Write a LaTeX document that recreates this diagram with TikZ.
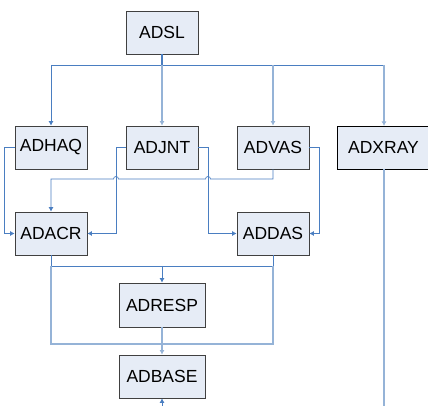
\documentclass[tikz,border=0pt]{standalone}
\usepackage{fontspec}
\setmainfont{Liberation Sans}
\usetikzlibrary{arrows.meta}
\definecolor{boxfill}{RGB}{230,236,246}
\definecolor{boxline}{RGB}{64,64,64}
\definecolor{linkdark}{RGB}{74,126,193}
\definecolor{linklight}{RGB}{149,179,215}
\tikzset{
  module/.style={draw=boxline, line width=0.8pt, fill=boxfill, minimum height=43pt,
    inner sep=0pt, font=\fontsize{17.5}{20}\selectfont},
  link/.style={draw=linkdark, line width=0.7pt},
  soft/.style={draw=linklight, line width=1.1pt},
  tip/.style={-{Latex[length=4.5pt,width=5pt]}},
}
\begin{document}
\begin{tikzpicture}[x=1pt,y=1pt]
\useasboundingbox (0,0) rectangle (428,406);
\clip (0,0) rectangle (428,406);

% modules
\node[module, minimum width=72pt] (adsl)   at (162,373.5) {ADSL};
\node[module, minimum width=72pt] (adhaq)  at (51,258.5)  {ADHAQ};
\node[module, minimum width=72pt] (adjnt)  at (162,258.5) {ADJNT};
\node[module, minimum width=72pt] (advas)  at (273,258.5) {ADVAS};
\node[module, draw=black, minimum width=93pt] (adxray) at (383.5,258.5) {ADXRAY};
\node[module, minimum width=72pt] (adacr)  at (51,172.5)  {ADACR};
\node[module, minimum width=72pt] (addas)  at (273,172.5) {ADDAS};
\node[module, minimum width=86pt, minimum height=44pt] (adresp) at (162,101) {ADRESP};
\node[module, minimum width=86pt] (adbase) at (162,29.5)  {ADBASE};

% fan-out from ADSL
\coordinate (bus) at (162,341);
\draw[link, line width=1.2pt] (adsl.south) -- (bus);
\draw[link] (51,341) -- (384,341);
\draw[link, tip] (51,341) -- (adhaq.north);
\draw[soft, tip] (bus) -- (adjnt.north);
\draw[soft, tip] (273,341) -- (advas.north);
\draw[soft, tip] (384,341) -- (384,280);

% ADXRAY runs off the bottom edge
\coordinate (xrayend) at (384,0);
\draw[soft] (384,237) -- (xrayend);

% side links into ADACR and ADDAS
\draw[link, tip] (adhaq.west) -- (4,258.5) |- (adacr.west);
\draw[link, tip] (adjnt.west) -- (116,258.5) |- (adacr.east);
\draw[link, tip] (adjnt.east) -- (208,258.5) |- (addas.west);
\draw[link, tip] (advas.east) -- (319,258.5) |- (addas.east);

% ADVAS down to ADACR, hopping over the crossings
\draw[link, tip] (advas.south) -- (273,227) -- (210.5,227)
  arc[start angle=0, end angle=180, radius=2.5] -- (118.5,227)
  arc[start angle=0, end angle=180, radius=2.5] -- (51,227) -- (adacr.north);

% ADACR and ADDAS into ADRESP
\draw[link] (adacr.south) -- (51,140) -- (273,140) -- (addas.south);
\draw[link, tip] (162,140) -- (adresp.north);

% into ADBASE
\draw[soft] (51,140) -- (51,62) -- (273,62) -- (273,140);
\draw[soft, tip] (adresp.south) -- (adbase.north);
\coordinate (baseend) at (162,0);
\draw[link, tip] (baseend) -- (adbase.south);
\end{tikzpicture}
\end{document}
